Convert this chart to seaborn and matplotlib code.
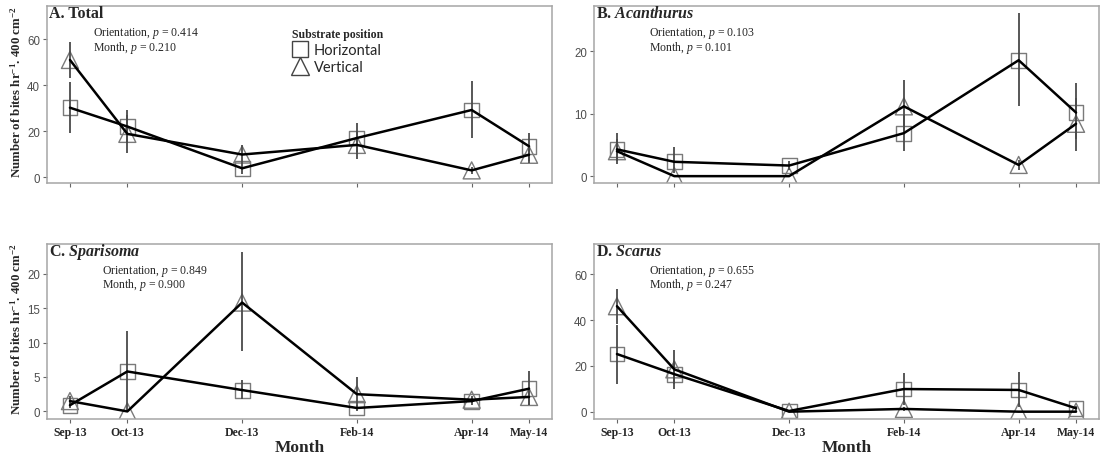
import numpy as np
import pandas as pd
import matplotlib
matplotlib.use("Agg")
import matplotlib.pyplot as plt
import seaborn as sns
from matplotlib.lines import Line2D

# ---------------- data ----------------
months = ["Sep-13", "Oct-13", "Dec-13", "Feb-14", "Apr-14", "May-14"]
month_pos = [0, 1, 3, 5, 7, 8]   # months elapsed since Sep-13
positions = ["Horizontal", "Vertical"]

# A. Total
total_h = [30.2, 22.0, 3.8, 17.0, 29.2, 13.4]
total_h_lo = [19.0, 15.0, 1.5, 11.0, 17.0, 7.0]
total_h_hi = [41.5, 29.0, 6.0, 23.5, 41.8, 19.0]
total_v = [51.0, 18.8, 9.8, 14.0, 2.9, 9.7]
total_v_lo = [43.0, 10.3, 6.0, 8.0, 1.5, 6.0]
total_v_hi = [59.0, 27.0, 14.0, 20.0, 4.5, 14.0]

# B. Acanthurus
acan_h = [4.3, 2.3, 1.7, 6.9, 18.6, 10.2]
acan_h_lo = [2.0, 0.5, 1.0, 4.1, 11.2, 6.0]
acan_h_hi = [7.0, 4.6, 2.4, 9.8, 26.2, 14.9]
acan_v = [4.0, 0.0, 0.0, 11.2, 1.8, 8.4]
acan_v_lo = [2.5, 0.0, 0.0, 7.0, 1.0, 4.1]
acan_v_hi = [6.0, 0.0, 0.0, 15.4, 2.6, 12.5]

# C. Sparisoma
spar_h = [0.9, 5.8, 3.1, 0.5, 1.5, 3.3]
spar_h_lo = [0.5, 0.0, 1.8, 0.0, 1.0, 0.9]
spar_h_hi = [1.5, 11.7, 4.5, 1.0, 2.0, 5.9]
spar_v = [1.5, 0.0, 15.8, 2.5, 1.7, 2.1]
spar_v_lo = [0.8, 0.0, 8.7, 0.2, 1.2, 1.0]
spar_v_hi = [2.2, 0.0, 23.1, 5.0, 2.2, 3.5]

# D. Scarus
scar_h = [25.2, 16.4, 0.3, 9.9, 9.5, 1.5]
scar_h_lo = [12.3, 10.1, 0.0, 3.0, 2.0, 0.5]
scar_h_hi = [38.0, 22.0, 0.8, 16.7, 17.3, 2.5]
scar_v = [46.1, 18.5, 0.0, 1.2, 0.0, 0.0]
scar_v_lo = [38.5, 12.0, 0.0, 0.5, 0.0, 0.0]
scar_v_hi = [53.5, 26.8, 0.0, 2.0, 0.0, 0.0]

panel_titles = ["A. Total", r"B. $\mathbfit{Acanthurus}$",
                r"C. $\mathbfit{Sparisoma}$", r"D. $\mathbfit{Scarus}$"]
p_orient = ["0.414", "0.103", "0.849", "0.655"]
p_month = ["0.210", "0.101", "0.900", "0.247"]
y_ticks = [[0, 20, 40, 60], [0, 10, 20], [0, 5, 10, 15, 20], [0, 20, 40, 60]]
y_limits = [(-2.6, 74.5), (-1.1, 27.3), (-1.1, 24.3), (-3.2, 73.3)]


def make_df(h, hlo, hhi, v, vlo, vhi):
    rows = []
    for i, x in enumerate(month_pos):
        rows.append(dict(x=x, pos="Horizontal", mean=h[i], lo=hlo[i], hi=hhi[i]))
        rows.append(dict(x=x, pos="Vertical", mean=v[i], lo=vlo[i], hi=vhi[i]))
    return pd.DataFrame(rows)


panels = [
    make_df(total_h, total_h_lo, total_h_hi, total_v, total_v_lo, total_v_hi),
    make_df(acan_h, acan_h_lo, acan_h_hi, acan_v, acan_v_lo, acan_v_hi),
    make_df(spar_h, spar_h_lo, spar_h_hi, spar_v, spar_v_lo, spar_v_hi),
    make_df(scar_h, scar_h_lo, scar_h_hi, scar_v, scar_v_lo, scar_v_hi),
]

# ---------------- style ----------------
sns.set_theme(style="white")
plt.rcParams["font.family"] = ["Liberation Serif", "DejaVu Serif"]
plt.rcParams["mathtext.fontset"] = "custom"
plt.rcParams["mathtext.rm"] = "Liberation Serif"
plt.rcParams["mathtext.it"] = "Liberation Serif:italic"
plt.rcParams["mathtext.bf"] = "Liberation Serif:bold"
plt.rcParams["mathtext.bfit"] = "Liberation Serif:italic:bold"

W, H = 1102, 460
fig = plt.figure(figsize=(W / 100, H / 100), dpi=100)

boxes = [(47, 7, 552, 184), (594, 7, 1099, 184),
         (47, 245, 552, 420), (594, 245, 1099, 420)]

frame_col = "#a6a6a6"
marker_col = "#7a7a7a"

for k, (l, t, r, b) in enumerate(boxes):
    ax = fig.add_axes([l / W, (H - b) / H, (r - l) / W, (b - t) / H])
    d = panels[k]
    sns.scatterplot(data=d, x="x", y="mean", style="pos", size="pos",
                    markers={"Horizontal": "s", "Vertical": "^"},
                    sizes={"Horizontal": 115, "Vertical": 150},
                    facecolor="none", edgecolor=marker_col,
                    linewidth=1.0, legend=False, ax=ax, zorder=2)
    ax.vlines(d["x"], d["lo"], d["hi"], color="#4a4a4a", lw=1.3, zorder=3)
    sns.lineplot(data=d, x="x", y="mean", units="pos", estimator=None,
                 color="black", lw=1.8, ax=ax, zorder=4, legend=False)

    ax.set_xlim(-0.4, 8.4)
    ax.set_ylim(*y_limits[k])
    ax.set_yticks(y_ticks[k])
    ax.set_xticks(month_pos)
    for sp in ax.spines.values():
        sp.set_color(frame_col)
        sp.set_linewidth(1.1)
    ax.tick_params(axis="both", which="both", length=3, width=0.8,
                   color="#666666", left=True, bottom=True, pad=2)
    for lab in ax.get_yticklabels():
        lab.set_fontfamily("Liberation Sans")
        lab.set_fontsize(8.3)
        lab.set_color("#4d4d4d")
    if k >= 2:
        ax.set_xticklabels(months, fontsize=8.5, fontweight="bold")
        ax.set_xlabel("Month", fontsize=12.5, fontweight="bold")
        ax.xaxis.set_label_coords(0.5, -0.115)
    else:
        ax.set_xticklabels([])
        ax.set_xlabel("")
    if k % 2 == 0:
        ax.set_ylabel(r"Number of bites hr$^{\mathbf{-1}}$. 400 cm$^{\mathbf{-2}}$",
                      fontsize=9.3, fontweight="bold")
        ax.yaxis.set_label_coords(-0.046, 0.52)
    else:
        ax.set_ylabel("")

    ax.text(0.004, 0.962, panel_titles[k], transform=ax.transAxes,
            fontsize=11.5, fontweight="bold", ha="left", va="center")
    xt = 0.092 if k == 0 else 0.108
    ax.text(xt, 0.85, r"Orientation, $p$ = " + p_orient[k], transform=ax.transAxes,
            fontsize=8.5, ha="left", va="center")
    ax.text(xt, 0.77, r"Month, $p$ = " + p_month[k], transform=ax.transAxes,
            fontsize=8.5, ha="left", va="center")

    if k == 0:
        handles = [Line2D([], [], marker="s", ls="none", mfc="none", mec="#444444",
                          ms=12, mew=1.0),
                   Line2D([], [], marker="^", ls="none", mfc="none", mec="#444444",
                          ms=13, mew=1.0)]
        leg = ax.legend(handles, positions, title="Substrate position",
                        loc="upper left", bbox_to_anchor=(0.47, 0.915),
                        frameon=False, handletextpad=0.3, labelspacing=0.2,
                        borderpad=0.0, handlelength=1.2,
                        prop={"family": "Lato", "size": 10.5})
        leg.get_title().set_fontweight("bold")
        leg.get_title().set_fontsize(8.5)
        leg.get_title().set_fontfamily("Liberation Serif")
        leg._legend_box.align = "left"

fig.savefig("out.png", dpi=100)
